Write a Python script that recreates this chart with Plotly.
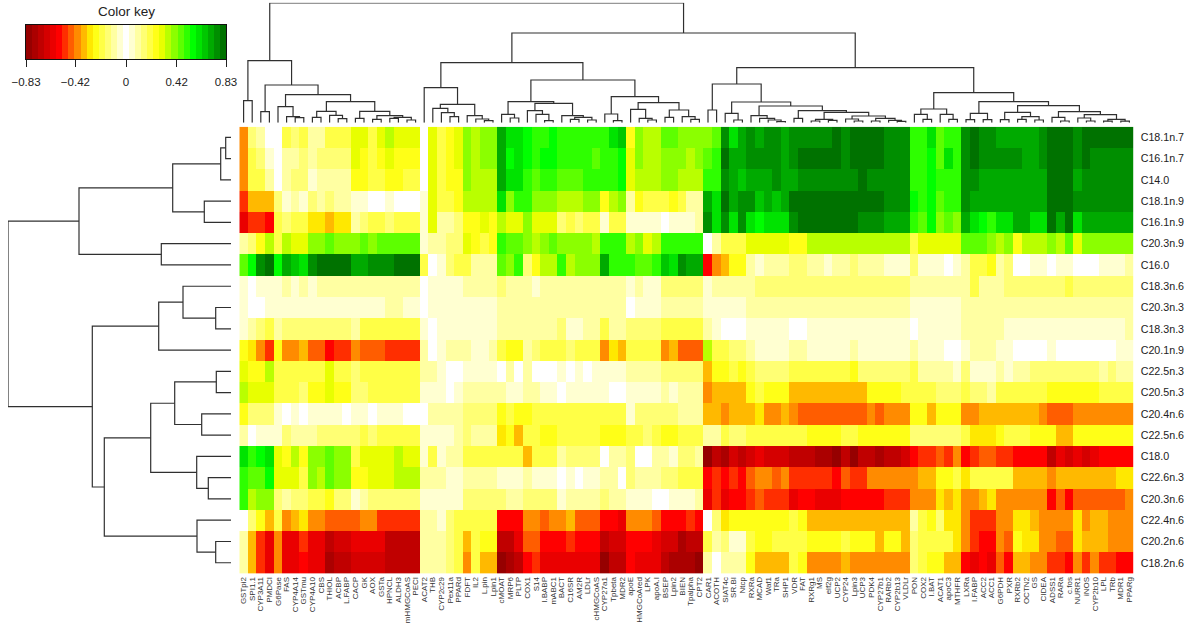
import plotly.graph_objects as go

W, H = 1200, 632

genes = ["GSTpi2","SPI1.1","CYP3A11","PMDCI","G6Pase","FAS","CYP4A14","GSTmu","CYP4A10","CBS","THIOL","ACBP",
         "L.FABP","CACP","GK","AOX","GSTa","HPNCL","ALDH3","mHMGCoAS","PECI","ACAT2","THB","CYP2c29","Pex11a",
         "PPARd","FDFT","IL2","L.pin","Lpin1","cMOAT","MRP6","PLTP","COX1","S14","I.BABP","mABC1","BACT","C16SR",
         "AM2R","LDLr","cHMGCoAS","CYP27a1","Tpbeta","MDR2","apoE","HMGCoAred","LPK","apoA.I","BSEP","Lpin2",
         "BIEN","Tpalpha","CPT2","CAR1","ACOTH","SIAT4c","SR.BI","Ntcp","RXRa","MCAD","Waf1","TRa","SHP1","VDR",
         "FAT","RXRg1","MS","elf2g","UCP2","CYP24","Lpin3","UCP3","PDK4","CYP27b1","RARb2","CYP2b13","VLDLr",
         "PON","COX2","I.BAT","ACAT1","apoC3","MTHFR","LXRa","I.FABP","ACC2","ACC1","G6PDH","PXR","RXRb2","OCTN2",
         "GS","CIDEA","ADSS1","RARa","c.fos","NURR1","iNOS","CYP2b10","LPL","TRb","MDR1","PPARg"]

lipids = ["C18.1n.7","C16.1n.7","C14.0","C18.1n.9","C16.1n.9","C20.3n.9","C16.0","C18.3n.6","C20.3n.3","C18.3n.3",
          "C20.1n.9","C22.5n.3","C20.5n.3","C20.4n.6","C22.5n.6","C18.0","C22.6n.3","C20.3n.6","C22.4n.6",
          "C20.2n.6","C18.2n.6"]

# correlation values x 100, one list per lipid row
C18_1n7 = [-40,15,10,0,2,20,14,20,8,12,18,18,18,30,30,22,30,34,30,30,30,0,32,20,25,28,42,36,42,42,68,58,62,55,48,52,
           55,48,48,48,52,52,52,60,64,26,42,36,36,46,44,38,38,42,42,46,74,58,68,74,68,74,76,70,74,76,76,76,76,82,74,78,
           78,78,78,76,76,76,50,52,58,46,52,52,76,80,74,76,72,72,70,70,70,74,80,80,83,76,78,78,78,78,78,78]
C16_1n7 = [-42,20,15,5,0,10,12,15,8,14,14,14,14,30,25,18,25,28,25,25,25,0,30,18,25,28,42,35,40,40,68,56,62,55,50,55,
           55,48,48,48,52,46,50,52,56,28,38,34,34,42,42,42,34,42,45,50,78,68,68,76,74,74,74,70,76,78,78,78,81,82,74,78,
           78,78,78,76,76,76,50,50,55,46,58,50,77,80,74,76,74,74,74,71,70,74,83,78,83,74,78,77,77,77,77,77]
C14_0 =   [-42,20,18,10,0,12,14,14,6,10,10,10,10,25,25,20,22,26,26,20,20,0,30,22,24,26,42,36,36,36,68,60,58,52,45,50,
           50,46,46,46,50,50,50,50,55,28,34,34,34,38,42,36,34,34,48,50,74,68,64,72,68,68,73,70,70,73,76,76,77,76,74,76,
           78,74,74,74,74,74,50,50,55,48,50,50,77,76,72,72,70,70,70,68,68,72,78,78,83,72,74,74,74,74,74,74]
C18_1n9 = [-52,-33,-33,-33,14,5,10,6,14,8,14,8,8,5,5,0,0,6,0,0,0,6,30,18,20,24,33,35,36,36,58,42,48,48,40,42,
           42,34,34,34,38,38,24,33,38,8,24,20,20,20,26,20,12,12,68,62,78,72,74,74,64,72,66,68,80,80,82,82,82,82,78,78,
           80,82,82,76,76,76,56,50,55,46,50,48,74,72,70,70,70,70,70,68,68,70,78,78,78,76,76,76,76,76,76,76]
C16_1n9 = [-62,-50,-50,-55,-22,-14,-20,-22,-28,-28,-36,-28,-28,-8,-14,-20,-20,-14,-18,-18,-20,6,30,10,10,14,25,25,30,24,36,28,28,38,28,28,
           28,14,20,16,22,22,5,18,18,5,4,3,3,0,7,7,7,10,76,62,74,62,74,62,55,58,58,60,76,78,78,78,78,78,78,78,
           76,77,77,70,70,70,52,44,54,42,44,40,68,60,54,48,58,58,68,68,62,62,78,70,78,62,72,70,68,68,68,68]
C20_3n9 = [8,15,26,34,20,36,30,30,40,40,45,42,42,42,46,42,45,45,45,45,45,7,10,10,15,15,28,24,22,24,52,45,45,38,35,42,
           44,42,40,40,40,35,52,48,48,35,40,30,36,48,48,48,48,48,0,10,20,20,20,28,28,28,28,28,24,26,36,36,36,36,36,33,
           34,34,34,34,34,34,20,28,28,28,30,30,46,45,45,40,36,38,25,35,35,35,38,36,46,32,40,40,40,40,40,40]
C16_0 =   [45,55,76,82,55,72,66,58,76,78,83,81,81,68,72,77,77,77,81,81,78,18,0,5,16,18,18,8,8,12,45,42,48,15,24,36,
           36,48,34,42,42,42,68,52,52,50,45,45,48,66,62,76,72,68,-55,-42,-34,-24,-24,10,3,8,8,8,16,14,10,10,5,12,12,14,
           8,8,8,5,5,5,16,3,5,5,0,3,10,20,20,26,10,14,0,0,5,5,0,5,5,0,0,0,4,5,5,10]
C18_3n6 = [6,0,5,5,6,10,4,10,4,8,8,8,8,8,8,8,8,8,10,10,10,0,5,5,5,5,8,8,8,8,14,10,10,10,5,8,
           12,12,12,12,12,12,12,12,12,6,8,6,6,14,14,14,14,14,4,10,10,10,10,12,14,14,14,14,14,14,14,14,14,14,14,14,
           16,16,16,16,16,16,8,8,8,8,8,8,12,20,12,12,12,14,14,14,14,14,14,14,22,14,14,14,14,14,14,14]
C20_3n3 = [5,0,0,5,5,5,5,5,5,5,5,5,5,5,5,5,5,8,8,5,5,0,3,3,3,3,3,3,3,3,8,8,8,8,8,8,
           8,8,8,8,8,8,8,8,8,2,6,3,3,8,8,8,8,8,3,5,5,5,5,10,10,10,10,10,10,10,10,10,10,10,10,9,
           9,9,9,9,9,9,3,3,3,3,3,3,8,8,8,8,8,8,8,8,8,8,8,8,8,8,8,8,8,8,8,8]
C18_3n3 = [5,10,14,20,8,13,13,13,13,13,17,17,17,10,18,18,18,18,18,18,18,3,0,3,3,3,3,3,3,3,12,12,12,8,8,8,
           8,14,6,6,12,12,18,12,12,14,14,14,14,20,20,20,20,20,10,5,0,0,0,3,5,5,5,5,0,0,5,4,4,4,5,4,
           4,4,4,4,4,4,0,3,3,3,3,3,8,8,8,8,10,7,4,4,4,4,4,4,4,4,4,4,4,4,4,10]
C20_1n9 = [-24,-32,-42,-52,-25,-40,-40,-33,-44,-44,-55,-48,-50,-38,-44,-44,-44,-50,-48,-50,-48,-8,0,-5,-12,-12,-12,-5,-5,-8,-20,-26,-24,-12,-14,-22,
           -20,-20,-14,-20,-20,-20,-38,-30,-33,-22,-22,-22,-20,-38,-34,-44,-44,-44,34,20,20,14,14,8,6,6,6,6,12,12,7,7,7,7,7,12,
           5,5,5,5,5,5,10,5,5,5,0,0,3,8,12,12,5,5,0,0,0,0,4,0,0,0,0,0,0,0,4,5]
C22_5n3 = [30,24,24,34,20,20,20,20,20,20,30,22,22,17,22,22,20,20,20,20,20,8,10,6,0,0,5,5,5,5,0,8,0,8,0,0,
           0,6,0,6,0,5,7,6,6,10,10,10,10,13,13,13,13,13,-34,-24,-24,-22,-26,-20,-14,-14,-14,-14,-20,-20,-20,-20,-20,-20,-20,-24,
           -14,-14,-14,-14,-14,-14,-20,-12,-8,-8,-8,-6,-14,-6,-6,-6,-10,-5,-12,-12,-14,-14,-14,-14,-14,-14,-14,-14,-8,-14,-8,-8]
C20_5n3 = [35,28,32,32,20,18,18,14,24,24,28,24,24,14,14,20,20,20,20,20,20,6,6,3,0,6,8,8,8,8,8,5,5,12,8,5,
           5,0,4,4,4,4,4,0,0,6,5,5,5,8,5,10,10,10,-40,-33,-37,-33,-33,-25,-20,-26,-26,-26,-34,-34,-34,-34,-34,-34,-34,-33,
           -33,-24,-24,-27,-27,-22,-20,-20,-20,-14,-14,-14,-20,-14,-14,-10,-20,-20,-20,-20,-20,-20,-25,-25,-25,-25,-25,-25,-20,-20,-20,-20]
C20_4n6 = [27,15,15,15,5,0,5,0,3,3,3,3,0,6,6,0,6,6,6,0,0,0,-10,-8,-8,-8,-14,-14,-14,-14,-24,-22,-27,-27,-20,-22,
           -20,-20,-20,-20,-22,-20,-20,-18,-22,6,-13,-13,-13,-15,-15,-10,-10,-10,-33,-33,-42,-36,-36,-36,-32,-38,-38,-36,-38,-44,-43,-43,-43,-43,-43,-43,
           -43,-42,-43,-38,-38,-38,-26,-26,-33,-25,-25,-25,-38,-38,-33,-33,-33,-33,-33,-33,-33,-38,-44,-44,-44,-38,-38,-38,-38,-38,-38,-38]
C22_5n6 = [10,0,3,7,7,14,10,10,12,14,16,16,16,16,20,16,20,20,20,20,20,5,7,7,7,8,14,8,12,12,-32,-25,-34,-22,-20,-25,
           -25,-20,-20,-20,-20,-20,-25,-26,-26,-18,-20,-17,-20,-24,-24,-22,-20,-22,-12,-10,-20,-16,-16,-22,-22,-22,-22,-22,-22,-22,-24,-24,-24,-24,-22,-22,
           -24,-24,-24,-24,-24,-24,-17,-17,-17,-17,-17,-17,-22,-30,-32,-32,-24,-22,-20,-20,-26,-26,-26,-33,-33,-24,-24,-24,-24,-24,-24,-24]
C18_0 =   [62,52,55,58,30,26,34,24,40,40,47,40,40,20,28,30,30,30,36,30,30,7,18,7,10,10,18,20,20,20,20,18,18,-34,18,18,
           18,10,14,14,14,14,0,10,10,14,0,0,8,10,6,14,14,10,-78,-68,-75,-66,-72,-65,-62,-66,-66,-64,-72,-72,-72,-74,-74,-78,-68,-78,
           -72,-72,-74,-68,-68,-66,-56,-50,-52,-44,-50,-42,-56,-50,-44,-44,-50,-50,-56,-56,-56,-56,-70,-62,-64,-58,-64,-62,-56,-56,-56,-56]
C22_6n3 = [50,45,47,54,28,28,28,22,40,34,46,40,40,24,24,28,28,28,34,34,34,8,8,8,5,5,8,10,10,10,6,3,3,10,5,5,
           6,0,6,0,7,7,10,10,0,13,8,10,10,13,13,18,18,18,-55,-48,-56,-48,-54,-44,-38,-38,-44,-42,-50,-50,-50,-52,-50,-55,-47,-48,
           -48,-42,-42,-42,-42,-42,-38,-33,-33,-25,-25,-18,-30,-20,-18,-18,-22,-22,-33,-33,-33,-33,-42,-37,-37,-37,-37,-37,-37,-37,-30,-30]
C20_3n6 = [50,36,42,42,15,10,17,17,20,20,24,17,17,5,10,16,16,14,14,16,14,5,5,5,5,5,15,14,14,14,13,10,10,17,14,14,
           14,6,10,10,10,8,16,8,12,6,6,6,0,0,5,5,5,8,-58,-48,-58,-56,-56,-48,-44,-52,-50,-50,-58,-56,-56,-58,-58,-60,-56,-56,
           -56,-55,-56,-48,-48,-48,-42,-38,-38,-30,-36,-30,-38,-40,-36,-30,-38,-38,-42,-42,-42,-42,-56,-44,-56,-46,-46,-46,-46,-46,-46,-42]
C22_4n6 = [0,14,-25,-34,-20,-40,-34,-32,-40,-40,-44,-44,-44,-45,-42,-42,-48,-48,-48,-50,-48,-8,-8,-6,-13,-18,-22,-20,-20,-20,-56,-56,-56,-40,-40,-44,
           -42,-42,-35,-44,-44,-44,-56,-56,-58,-40,-38,-38,-44,-56,-56,-56,-48,-56,0,-14,-28,-25,-25,-26,-26,-26,-26,-26,-20,-26,-33,-33,-33,-33,-33,-33,
           -33,-33,-33,-33,-33,-33,-12,-20,-26,-16,-30,-30,-40,-48,-50,-50,-38,-38,-32,-32,-33,-38,-38,-42,-42,-30,-38,-36,-36,-42,-42,-42]
C20_2n6 = [-12,-33,-50,-62,-38,-60,-58,-50,-60,-60,-72,-65,-65,-60,-62,-62,-62,-68,-68,-68,-68,-10,-10,-10,-16,-18,-33,-20,-24,-24,-70,-68,-62,-44,-44,-56,
           -56,-56,-48,-55,-55,-55,-70,-65,-66,-54,-54,-54,-58,-67,-65,-75,-70,-72,-20,-10,-15,-7,-7,-20,-25,-25,-20,-20,-18,-22,-25,-25,-27,-27,-20,-26,
           -26,-26,-33,-26,-26,-33,-14,-22,-22,-18,-22,-30,-38,-48,-54,-54,-38,-46,-24,-32,-32,-38,-38,-44,-44,-30,-37,-37,-34,-42,-42,-42]
C18_2n6 = [-10,-33,-50,-62,-38,-62,-58,-56,-60,-60,-76,-68,-68,-65,-65,-65,-65,-70,-70,-72,-72,-10,-10,-10,-14,-18,-38,-20,-33,-33,-78,-74,-70,-55,-50,-60,
           -62,-62,-58,-58,-62,-62,-78,-68,-72,-55,-60,-60,-62,-72,-76,-75,-74,-78,-8,0,-12,-12,-12,-24,-35,-35,-35,-35,-20,-26,-38,-38,-38,-38,-33,-38,
           -38,-38,-38,-38,-38,-38,-16,-22,-24,-24,-33,-33,-55,-60,-56,-60,-46,-56,-37,-37,-42,-42,-48,-48,-56,-38,-48,-38,-48,-48,-56,-56]

rows = [C18_1n7,C16_1n7,C14_0,C18_1n9,C16_1n9,C20_3n9,C16_0,C18_3n6,C20_3n3,C18_3n3,C20_1n9,C22_5n3,C20_5n3,C20_4n6,
        C22_5n6,C18_0,C22_6n3,C20_3n6,C22_4n6,C20_2n6,C18_2n6]
for name, r in zip(lipids, rows):
    assert len(r) == 104, (name, len(r))
z = [[v / 100 for v in r] for r in rows]

key_ticks = [-0.83, -0.42, 0, 0.42, 0.83]
key_labels = ["\u22120.83", "\u22120.42", "0", "0.42", "0.83"]

# Dendrogram merges: (merge height, left, right); integers are leaves in display order
col_tree = (119.7,
    (62, (22, 0, 1),
         (37.7, (11, 2, 3),
          (28, (16, 4, (6, 5, (5, 6, 7))),
               (21, (11.4, (5.4, 8, 9), (7.4, 10, (4, 11, 12))),
                    (11.4, (4.4, 13, 14), (7, (3.4, 15, 16), (5.4, (4.4, 17, 18), (2.7, 19, 20)))))))),
    (89.7,
     (60, (35, 21, (18.4, (14.4, 22, (10, 23, (6, 24, 25))), (7, 26, (3.7, 27, (2, 28, 29))))),
          (42.7,
           (21, (8.4, 30, (4.7, 31, 32)),
                (19.4, (12, 33, (8.4, 34, (2, 35, 36))),
                       (7, 37, (5.4, (3.4, 38, 39), (2.7, 40, 41))))),
           (26, (8.7, 42, (2, 43, 44)),
                (20, (13.4, 45, (4.4, 46, (2.7, 47, 48))),
                     (12.7, (5.4, 49, 50), (6, 51, (3.4, 52, 53))))))),
     (55,
      (38.7, (12.7, 54, 55),
       (20.7, (9.4, 56, (2.7, 57, 58)),
        (16.7, (7, 59, (4.4, 60, (2.7, 61, (1, 62, 63)))),
         (12, (4.4, 64, 65),
          (10.4, (3.4, (1.7, 66, 67), (2.4, 68, 69)),
           (6.7, (3.7, 70, (1.7, 71, 72)),
            (4.4, (1.7, 73, 74), (2.4, 75, (1.4, 76, 77))))))))),
      (30,
       (13.7, (8.4, 78, (3.4, 79, 80)), (8.4, 81, (3.4, 82, 83))),
       (21, (9.4, (3, 84, 85), (3, 86, 87)),
        (17, (10.4, (3, 88, 89), (6, (3.4, 90, 91), (2.7, 92, 93))),
         (11, (5.4, 94, (1.7, 95, 96)),
          (8, (4.7, 97, (1.7, 98, 99)), (3.4, (1.5, 100, 101), (1.5, 102, 103))))))))))

row_tree = (223,
    (152, (58.3, (10.3, (5.3, 0, 1), 2), (26.7, 3, 4)), (69.7, 5, 6)),
    (138.7,
     (72.3, (48, 7, (15.3, 8, 9)), 10),
     (126.7,
      (80.3, (56.3, (14.7, 11, 12), (29.3, 13, 14)), (34.3, 15, (22.7, 16, 17))),
      (34, 18, (15.3, 19, 20)))))


def dendro_segments(tree):
    pos, hgt = [], []

    def walk(node):
        if isinstance(node, int):
            return float(node), 0.0
        h, a, b = node
        pa, ha = walk(a)
        pb, hb = walk(b)
        pos.extend([pa, pa, pb, pb, None])
        hgt.extend([ha, h, h, hb, None])
        return (pa + pb) / 2, h

    walk(tree)
    return pos, hgt


# colour ramp: darkred, red, yellow, white, yellow, green, darkgreen, in 33 flat bands
ramp = [(139, 0, 0), (255, 0, 0), (255, 255, 0), (255, 255, 255), (255, 255, 0), (0, 255, 0), (0, 100, 0)]
N_BANDS = 33


def ramp_at(t):
    p = t * (len(ramp) - 1)
    i = min(int(p), len(ramp) - 2)
    f = p - i
    c = [round(ramp[i][k] + (ramp[i + 1][k] - ramp[i][k]) * f) for k in range(3)]
    return f"rgb({c[0]},{c[1]},{c[2]})"


colorscale = []
for b in range(N_BANDS):
    col = ramp_at((b + 0.5) / N_BANDS)
    colorscale.append([b / N_BANDS, col])
    colorscale.append([(b + 1) / N_BANDS, col])

FONT = "Liberation Sans, Arial, sans-serif"
HM_L, HM_R, HM_T, HM_B = 239.3, 1133.7, 126.7, 573.4
TOP_T, TOP_B = 2.7, 122.7
SIDE_L, SIDE_R = 8.0, 231.0
KEY_L, KEY_R, KEY_T, KEY_B = 26.0, 226.0, 25.0, 59.3
DENDRO = dict(color="#303030", width=1.2)
VMIN, VMAX = key_ticks[0], key_ticks[-1]

fig = go.Figure()
fig.add_trace(go.Heatmap(z=z, x=genes, y=lipids, zmin=VMIN, zmax=VMAX, colorscale=colorscale, showscale=False))

band_mid = [VMIN + (VMAX - VMIN) * (b + 0.5) / N_BANDS for b in range(N_BANDS)]
fig.add_trace(go.Heatmap(z=[band_mid], x=band_mid, y=["key"], zmin=VMIN, zmax=VMAX, colorscale=colorscale,
                         showscale=False, xaxis="x4", yaxis="y4", hoverinfo="x"))

px, py = dendro_segments(col_tree)
fig.add_trace(go.Scatter(x=px, y=py, mode="lines", line=DENDRO, xaxis="x2", yaxis="y2", hoverinfo="skip", showlegend=False))
sy, sx = dendro_segments(row_tree)
fig.add_trace(go.Scatter(x=sx, y=sy, mode="lines", line=DENDRO, xaxis="x3", yaxis="y3", hoverinfo="skip", showlegend=False))

hidden = dict(visible=False, fixedrange=True, automargin=False)
fig.update_layout(
    width=W, height=H, margin=dict(l=0, r=0, t=0, b=0), paper_bgcolor="white", plot_bgcolor="white",
    showlegend=False,
    xaxis=dict(domain=[HM_L / W, HM_R / W], range=[-0.5, 103.5], type="category", side="bottom",
               tickmode="array", tickvals=genes, ticktext=genes, tickangle=-90, ticklabelstandoff=1,
               tickfont=dict(family=FONT, size=8, color="#333333"), ticks="", showgrid=False, zeroline=False,
               showline=False, automargin=False),
    yaxis=dict(domain=[1 - HM_B / H, 1 - HM_T / H], range=[20.5, -0.5], type="category", side="right",
               tickmode="array", tickvals=lipids, ticktext=lipids, ticklabelstandoff=6,
               tickfont=dict(family=FONT, size=10.7, color="#222222"), ticks="", showgrid=False, zeroline=False,
               showline=False, automargin=False),
    xaxis2=dict(domain=[HM_L / W, HM_R / W], range=[-0.5, 103.5], anchor="y2", **hidden),
    yaxis2=dict(domain=[1 - TOP_B / H, 1 - TOP_T / H], range=[0, 120], anchor="x2", **hidden),
    xaxis3=dict(domain=[SIDE_L / W, SIDE_R / W], range=[223, 0], anchor="y3", **hidden),
    yaxis3=dict(domain=[1 - HM_B / H, 1 - HM_T / H], range=[20.5, -0.5], anchor="x3", **hidden),
    xaxis4=dict(domain=[KEY_L / W, KEY_R / W], range=[VMIN, VMAX], anchor="y4", side="bottom", tickmode="array",
                tickvals=key_ticks, ticktext=key_labels, ticks="outside", ticklen=7, tickwidth=1, tickcolor="#222222",
                ticklabelstandoff=5, tickfont=dict(family=FONT, size=11.5, color="#222222"), showline=True,
                linecolor="#111111", linewidth=1, mirror=True, showgrid=False, zeroline=False, fixedrange=True,
                automargin=False),
    yaxis4=dict(domain=[1 - KEY_B / H, 1 - KEY_T / H], anchor="x4", type="category", showticklabels=False, ticks="",
                showline=True, linecolor="#111111", linewidth=1, mirror=True, showgrid=False, zeroline=False,
                fixedrange=True, automargin=False),
    annotations=[dict(text="Color key", xref="paper", yref="paper", x=(KEY_L + KEY_R) / 2 / W, y=1 - 12 / H,
                      xanchor="center", yanchor="middle", showarrow=False,
                      font=dict(family=FONT, size=13.5, color="#222222"))],
)

fig.write_html("out.html", post_script="document.body.style.margin='0';document.body.style.overflow='hidden';",
               config=dict(displayModeBar=False))
